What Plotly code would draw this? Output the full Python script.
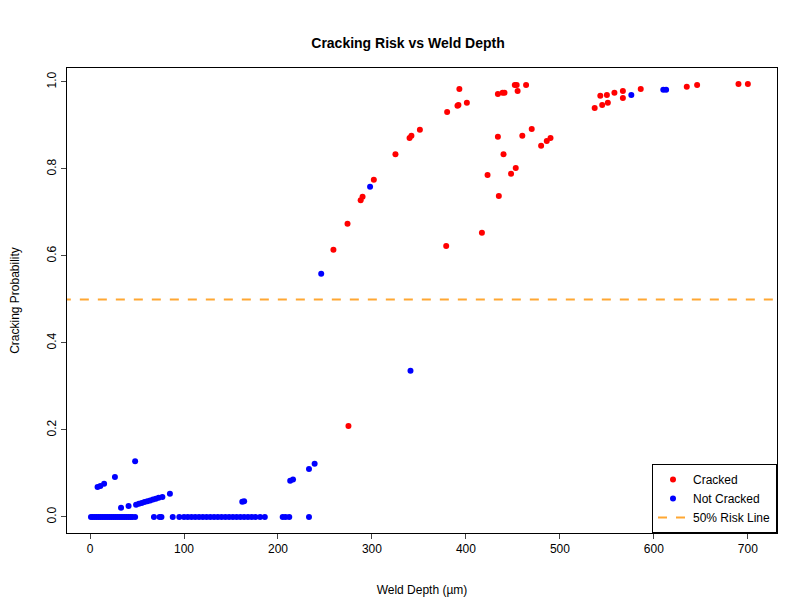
import plotly.graph_objects as go

cracked_x = [275, 259, 274, 288, 290, 302, 325, 340, 342, 351, 380, 391, 392, 393, 401,
             379, 417, 423, 434, 435, 440, 448, 453, 460, 470, 480, 486, 490,
             434, 439, 441, 452, 454, 455, 464,
             537, 543, 545, 550, 551, 558, 567, 567, 586, 635, 646, 690, 700]
cracked_y = [0.209, 0.614, 0.674, 0.728, 0.736, 0.775, 0.834, 0.871, 0.876, 0.890, 0.931, 0.945, 0.947, 0.984, 0.952,
             0.623, 0.653, 0.786, 0.874, 0.738, 0.834, 0.789, 0.802, 0.876, 0.892, 0.853, 0.864, 0.871,
             0.972, 0.975, 0.975, 0.993, 0.993, 0.979, 0.993,
             0.940, 0.968, 0.947, 0.970, 0.952, 0.975, 0.979, 0.963, 0.984, 0.989, 0.993, 0.995, 0.995]

zero_x = [1, 3, 5, 7, 9, 11, 13, 15, 17, 19, 21, 23, 25, 27, 29, 31, 33, 35, 37, 39, 41, 43, 45,
          48, 68, 74, 76, 88, 95, 100, 104, 108, 112, 116, 120, 124, 128, 132, 136, 140, 144, 148,
          152, 156, 160, 164, 168, 172, 176, 181, 186, 205, 208, 212, 233]
nc_x = zero_x + [8, 11, 15, 26.5, 48, 33, 41,
                 49, 52, 55, 58, 61, 64, 67, 70, 73, 77, 85, 162, 164, 213, 216, 233, 239,
                 246, 298, 341, 576, 610, 613]
nc_y = [0.0] * len(zero_x) + [0.069, 0.071, 0.076, 0.092, 0.128, 0.021, 0.025,
                              0.028, 0.030, 0.032, 0.034, 0.036, 0.038, 0.040, 0.042, 0.044, 0.046, 0.053,
                              0.035, 0.036, 0.083, 0.086, 0.110, 0.122,
                              0.559, 0.759, 0.336, 0.970, 0.982, 0.982]

fig = go.Figure()
fig.add_trace(go.Scatter(x=cracked_x, y=cracked_y, mode="markers", name="Cracked",
                         marker=dict(color="red", size=6)))
fig.add_trace(go.Scatter(x=nc_x, y=nc_y, mode="markers", name="Not Cracked",
                         marker=dict(color="blue", size=6)))
fig.add_trace(go.Scatter(x=[-30, 740], y=[0.5, 0.5], mode="lines", name="50% Risk Line",
                         line=dict(color="#FFA733", width=2, dash="dash")))

axis_common = dict(showline=True, linecolor="black", mirror=True, ticks="outside",
                   showgrid=False, zeroline=False, automargin=False,
                   tickfont=dict(size=12, color="black"))
fig.update_layout(
    width=800, height=600, plot_bgcolor="white", paper_bgcolor="white",
    font=dict(family="Liberation Sans, Arial", color="black"),
    title=dict(text="<b>Cracking Risk vs Weld Depth</b>", x=0.5, y=0.95, font=dict(size=14)),
    margin=dict(l=59, r=31, t=60, b=75),
    xaxis=dict(title=dict(text="Weld Depth (µm)", font=dict(size=12), standoff=30), range=[-24.5, 731],
               tickvals=[0, 100, 200, 300, 400, 500, 600, 700], **axis_common),
    yaxis=dict(title=dict(text="Cracking Probability", font=dict(size=12), standoff=30), range=[-0.037, 1.032],
               tickvals=[0, 0.2, 0.4, 0.6, 0.8, 1.0], ticktext=["0.0", "0.2", "0.4", "0.6", "0.8", "1.0"],
               tickangle=-90, **axis_common),
    legend=dict(x=1, y=0, xanchor="right", yanchor="bottom", bordercolor="black", borderwidth=1,
                bgcolor="white", font=dict(size=12)),
)
fig.write_html("out.html")
